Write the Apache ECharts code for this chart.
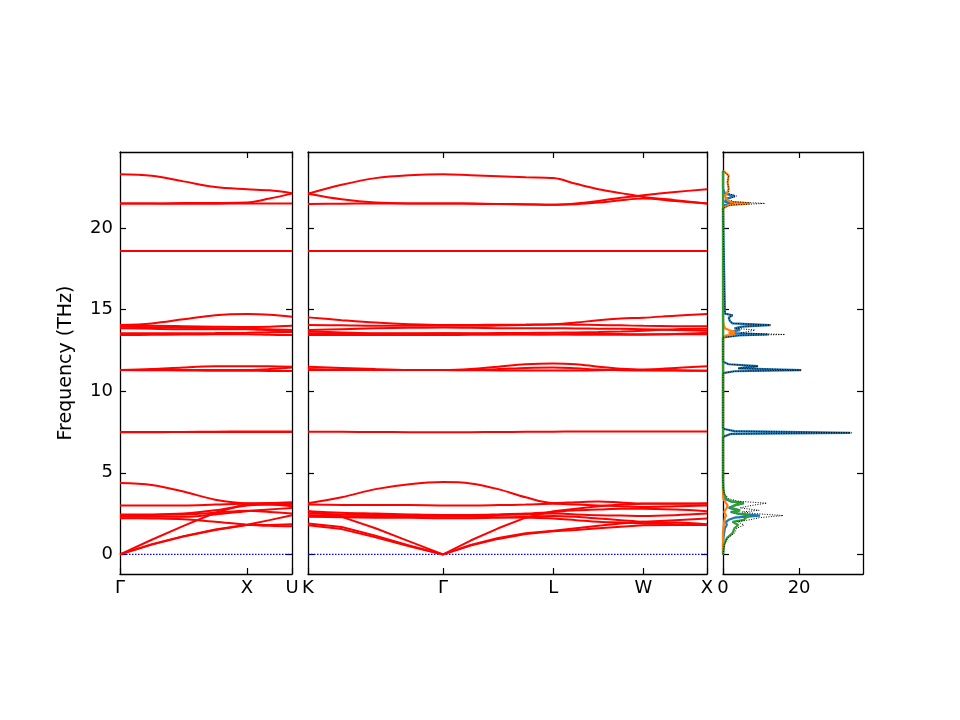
<!DOCTYPE html>
<html>
<head>
<meta charset="utf-8">
<script src="https://cdn.jsdelivr.net/npm/echarts@6/dist/echarts.min.js"></script>
<style>html,body{margin:0;background:#fff}#main{width:960px;height:720px}</style>
</head>
<body>
<div id="main"></div>
<script>
// k-path positions (2pi/a units) and labels
var kpath1 = [0, 0.25, 0.5, 0.75, 1.0, 1.177, 1.354];
var ticks1 = [0, 1.0, 1.354];
var names1 = ['Γ', 'X', 'U'];
var kpath2 = [0, 0.265, 0.53, 0.795, 1.061, 1.277, 1.494, 1.710, 1.927, 2.104, 2.281, 2.457, 2.634, 2.884, 3.134];
var ticks2 = [0, 1.061, 1.927, 2.634, 3.134];
var names2 = ['K', 'Γ', 'L', 'W', 'X'];
var freqTicks = [0, 5, 10, 15, 20];
var dosTicks = [0, 20];

// Γ-X-U bands (THz)
var acoustic1 = [
  [0, 0.6, 1.1, 1.5, 1.8, 1.8, 1.85],
  [0, 0.62, 1.12, 1.52, 1.82, 2.1, 2.4],
  [0, 0.9, 1.75, 2.55, 3.1, 3.1, 3.05]
];
var optical1 = [
  [2.22, 2.2, 2.15, 2.0, 1.82, 1.75, 1.72],
  [2.3, 2.3, 2.3, 2.45, 2.65, 2.75, 2.85],
  [2.42, 2.42, 2.45, 2.55, 2.68, 2.6, 2.5],
  [2.45, 2.45, 2.5, 2.7, 3.0, 3.05, 3.1],
  [3.0, 3.0, 3.0, 3.05, 3.1, 3.05, 2.95],
  [4.37, 4.25, 3.85, 3.35, 3.14, 3.15, 3.2],
  [7.48, 7.48, 7.5, 7.52, 7.53, 7.53, 7.53],
  [7.5, 7.5, 7.5, 7.5, 7.5, 7.5, 7.5],
  [11.29, 11.35, 11.45, 11.52, 11.53, 11.52, 11.5],
  [11.29, 11.28, 11.27, 11.25, 11.25, 11.24, 11.23],
  [11.3, 11.3, 11.3, 11.3, 11.3, 11.35, 11.45],
  [13.44, 13.45, 13.47, 13.48, 13.48, 13.45, 13.44],
  [13.54, 13.54, 13.55, 13.56, 13.58, 13.6, 13.62],
  [13.85, 13.82, 13.8, 13.8, 13.8, 13.72, 13.65],
  [13.95, 13.92, 13.88, 13.85, 13.82, 13.8, 13.75],
  [14.0, 14.0, 13.98, 13.95, 13.93, 13.95, 14.0],
  [14.05, 14.15, 14.4, 14.65, 14.72, 14.68, 14.56],
  [18.58, 18.58, 18.58, 18.58, 18.58, 18.58, 18.58],
  [21.5, 21.49, 21.48, 21.48, 21.5, 21.5, 21.5],
  [21.5, 21.5, 21.52, 21.53, 21.55, 21.8, 22.1],
  [23.29, 23.2, 22.85, 22.5, 22.37, 22.3, 22.13]
];

// K-Γ-L-W-X bands (THz)
var acoustic2 = [
  [1.78, 1.55, 1.05, 0.5, 0, 0.55, 0.95, 1.25, 1.42, 1.5, 1.6, 1.7, 1.78, 1.8, 1.8],
  [1.9, 1.68, 1.15, 0.55, 0, 0.58, 1.0, 1.3, 1.45, 1.6, 1.75, 1.9, 2.0, 2.1, 2.2],
  [2.65, 2.3, 1.6, 0.8, 0, 0.85, 1.6, 2.25, 2.65, 2.8, 2.95, 3.05, 3.1, 3.1, 3.1]
];
var optical2 = [
  [2.4, 2.35, 2.32, 2.3, 2.3, 2.3, 2.28, 2.25, 2.2, 2.1, 2.0, 1.95, 1.9, 1.85, 1.82],
  [2.3, 2.28, 2.25, 2.24, 2.22, 2.22, 2.25, 2.3, 2.35, 2.3, 2.2, 2.1, 2.0, 1.95, 1.85],
  [2.5, 2.45, 2.42, 2.4, 2.4, 2.4, 2.42, 2.45, 2.5, 2.45, 2.4, 2.38, 2.35, 2.4, 2.5],
  [2.65, 2.55, 2.5, 2.45, 2.42, 2.42, 2.45, 2.5, 2.6, 2.7, 2.75, 2.8, 2.8, 2.75, 2.65],
  [3.05, 3.03, 3.02, 3.02, 3.0, 3.0, 3.02, 3.05, 3.1, 3.05, 3.0, 2.95, 2.9, 2.95, 3.0],
  [3.14, 3.5, 4.0, 4.3, 4.43, 4.35, 4.0, 3.5, 3.15, 3.2, 3.24, 3.18, 3.12, 3.12, 3.14],
  [7.52, 7.51, 7.5, 7.49, 7.48, 7.49, 7.5, 7.51, 7.52, 7.53, 7.53, 7.53, 7.53, 7.53, 7.53],
  [11.35, 11.32, 11.3, 11.29, 11.29, 11.28, 11.27, 11.27, 11.27, 11.27, 11.28, 11.3, 11.3, 11.28, 11.25],
  [11.29, 11.29, 11.29, 11.29, 11.29, 11.3, 11.35, 11.42, 11.45, 11.4, 11.32, 11.28, 11.27, 11.26, 11.25],
  [11.49, 11.42, 11.35, 11.3, 11.29, 11.35, 11.5, 11.65, 11.7, 11.65, 11.5, 11.38, 11.33, 11.42, 11.53],
  [13.44, 13.44, 13.44, 13.44, 13.44, 13.45, 13.46, 13.47, 13.48, 13.5, 13.52, 13.5, 13.48, 13.48, 13.48],
  [13.65, 13.6, 13.55, 13.54, 13.54, 13.52, 13.5, 13.48, 13.47, 13.46, 13.45, 13.45, 13.46, 13.5, 13.58],
  [13.54, 13.53, 13.52, 13.52, 13.54, 13.55, 13.56, 13.57, 13.58, 13.6, 13.62, 13.65, 13.7, 13.8, 13.82],
  [13.75, 13.8, 13.85, 13.88, 13.9, 13.88, 13.86, 13.85, 13.85, 13.84, 13.83, 13.82, 13.8, 13.75, 13.7],
  [14.05, 14.03, 14.0, 14.0, 14.0, 14.0, 14.02, 14.05, 14.08, 14.07, 14.05, 14.03, 14.0, 13.98, 13.97],
  [14.52, 14.35, 14.2, 14.1, 14.05, 14.05, 14.07, 14.08, 14.1, 14.2, 14.35, 14.45, 14.5, 14.62, 14.72],
  [18.58, 18.58, 18.58, 18.58, 18.58, 18.58, 18.58, 18.58, 18.58, 18.58, 18.58, 18.58, 18.58, 18.58, 18.58],
  [21.47, 21.48, 21.5, 21.5, 21.5, 21.48, 21.46, 21.44, 21.42, 21.45, 21.55, 21.7, 21.8, 21.65, 21.5],
  [22.09, 21.75, 21.55, 21.5, 21.5, 21.49, 21.47, 21.45, 21.42, 21.5, 21.65, 21.85, 22.0, 22.2, 22.37],
  [22.09, 22.64, 23.05, 23.23, 23.29, 23.23, 23.17, 23.1, 23.05, 22.7, 22.37, 22.13, 21.9, 21.7, 21.5]
];

// projected DOS: frequency grid and states per species + total
var dosFreq = [0, 0.6, 1.0, 1.3, 1.6, 1.8, 2.0, 2.12, 2.25, 2.38, 2.5, 2.6, 2.7, 2.85, 3.0, 3.14, 3.25, 3.4, 3.7, 4.0, 4.5,
  7.2, 7.38, 7.45, 7.55, 7.7, 11.1, 11.22, 11.29, 11.4, 11.53, 11.65, 11.8,
  13.3, 13.42, 13.47, 13.56, 13.64, 13.74, 13.85, 13.95, 14.05, 14.15, 14.3, 14.5, 14.65, 14.75, 14.85,
  21.2, 21.4, 21.5, 21.6, 21.8, 21.95, 22.1, 22.4, 22.8, 23.2, 23.35, 23.5];
var dosBlue = [0, 0, 0.1, 0.3, 0.5, 1.0, 0.8, 1.5, 3.0, 9.7, 4.0, 2.0, 4.4, 1.5, 3.0, 5.5, 2.0, 0.5, 0.1, 0, 0,
  0, 2, 33.5, 3, 0, 0, 3, 20.5, 4, 9.2, 1.5, 0,
  0, 4, 11.9, 3, 2, 4.5, 3, 5, 12.4, 2.5, 1.8, 1.5, 2.5, 0.5, 0,
  0, 0.5, 3.0, 0.5, 1.0, 3.1, 0.5, 0, 0, 0, 0, 0];
var dosOrange = [0, 0, 0, 0, 0.1, 0.2, 0.3, 0.4, 0.5, 0.8, 0.5, 0.3, 0.5, 1.0, 1.2, 0.8, 0.3, 0.1, 0, 0, 0,
  0, 0, 0, 0, 0, 0, 0, 0, 0, 0, 0, 0,
  0, 1, 3.1, 1.5, 3.1, 1.5, 0.5, 0.3, 0.2, 0, 0, 0, 0, 0, 0,
  0, 1.5, 7.1, 2.0, 0.8, 0.5, 1.0, 1.5, 1.2, 1.5, 0.8, 0];
var dosGreen = [0, 0.3, 1.0, 2.5, 3.0, 4.0, 2.5, 5.5, 6.0, 7.0, 4.0, 2.5, 4.5, 2.0, 3.0, 5.3, 2.0, 1.0, 0.3, 0.1, 0,
  0, 0, 0, 0, 0, 0, 0, 0, 0, 0, 0, 0,
  0, 0, 0, 0, 0, 0, 0, 0, 0, 0, 0, 0, 0, 0, 0,
  0, 0, 0, 0, 0, 0, 0, 0, 0, 0, 0, 0];
var dosTotal = [0, 0.4, 1.2, 3.0, 3.6, 5.5, 3.8, 7.0, 9.5, 15.8, 8.5, 5.0, 9.5, 4.5, 7.5, 11.5, 4.3, 1.6, 0.4, 0.1, 0,
  0, 2, 33.8, 3, 0, 0, 3, 20.7, 4, 9.2, 1.5, 0,
  0, 5, 16.3, 4.5, 5.0, 8.4, 3.5, 5.3, 12.6, 2.5, 1.8, 1.5, 2.5, 0.5, 0,
  0, 2.0, 11.0, 2.5, 1.8, 3.6, 1.5, 1.5, 1.2, 1.5, 0.8, 0];

var FONT = 'DejaVu Sans';
var FS = 18;
var YMIN = -1.2, YMAX = 24.65;

function tickAx(extra) {
  var ax = {
    min: 0, max: 1, type: 'value',
    axisLine: {show: true, onZero: false, lineStyle: {color: '#000', width: 1.3}},
    axisTick: {show: true, inside: true, length: 6, lineStyle: {color: '#000', width: 1.2}},
    axisLabel: {show: false},
    splitLine: {show: false}
  };
  return Object.assign(ax, extra);
}

function xAxesFor(g, kmax, ticks, names) {
  var fmt = function (v) {
    for (var i = 0; i < ticks.length; i++) if (Math.abs(ticks[i] - v) < 1e-6) return names[i];
    return '';
  };
  var bottom = tickAx({gridIndex: g, position: 'bottom', min: 0, max: kmax});
  bottom.axisTick.customValues = ticks;
  bottom.axisLabel = {show: true, customValues: ticks, formatter: fmt, color: '#000', fontSize: FS, fontFamily: FONT, margin: 5};
  var top = tickAx({gridIndex: g, position: 'top', min: 0, max: kmax});
  top.axisTick.customValues = ticks;
  return [bottom, top];
}

function yAxesFor(g, labels) {
  var left = tickAx({gridIndex: g, position: 'left', min: YMIN, max: YMAX});
  left.axisTick.customValues = freqTicks;
  if (labels) {
    left.axisLabel = {show: true, customValues: freqTicks, color: '#000', fontSize: FS, fontFamily: FONT, margin: 7};
    left.name = 'Frequency (THz)';
    left.nameLocation = 'middle';
    left.nameGap = 44;
    left.nameTextStyle = {color: '#000', fontSize: 19, fontFamily: FONT};
  }
  var right = tickAx({gridIndex: g, position: 'right', min: YMIN, max: YMAX});
  right.axisTick.customValues = freqTicks;
  return [left, right];
}

var xAxis = [].concat(xAxesFor(0, kpath1[kpath1.length - 1], ticks1, names1),
                      xAxesFor(1, kpath2[kpath2.length - 1], ticks2, names2));
var dosBottom = tickAx({gridIndex: 2, position: 'bottom', min: 0, max: 36.8});
dosBottom.axisTick.customValues = dosTicks;
dosBottom.axisLabel = {show: true, customValues: dosTicks, color: '#000', fontSize: FS, fontFamily: FONT, margin: 5};
var dosTop = tickAx({gridIndex: 2, position: 'top', min: 0, max: 36.8});
dosTop.axisTick.customValues = dosTicks;
xAxis.push(dosBottom, dosTop);

var yAxis = [].concat(yAxesFor(0, true), yAxesFor(1, false), yAxesFor(2, false));

var series = [];
function bandSeries(kp, bands, axisIdx, smooth) {
  bands.forEach(function (b) {
    series.push({
      type: 'line', xAxisIndex: axisIdx, yAxisIndex: axisIdx, symbol: 'none', silent: true,
      smooth: smooth, data: b.map(function (f, i) { return [kp[i], f]; }),
      lineStyle: {color: '#ff0000', width: 2}, z: 3
    });
  });
}
function zeroLine(kp, axisIdx) {
  series.push({
    type: 'line', xAxisIndex: axisIdx, yAxisIndex: axisIdx, symbol: 'none', silent: true,
    data: [[kp[0], 0], [kp[kp.length - 1], 0]],
    lineStyle: {color: '#0000ff', width: 1.2, type: [1.5, 1.5]}, z: 2
  });
}
zeroLine(kpath1, 0);
zeroLine(kpath2, 2);
bandSeries(kpath1, acoustic1, 0, false);
bandSeries(kpath1, optical1, 0, 0.35);
bandSeries(kpath2, acoustic2, 2, false);
bandSeries(kpath2, optical2, 2, 0.35);

function dosSeries(vals, color, width, type, z) {
  series.push({
    type: 'line', xAxisIndex: 4, yAxisIndex: 4, symbol: 'none', silent: true,
    data: vals.map(function (d, i) { return [d, dosFreq[i]]; }),
    lineStyle: {color: color, width: width, type: type}, z: z
  });
}
dosSeries(dosBlue, '#1f77b4', 2.2, 'solid', 3);
dosSeries(dosOrange, '#ff7f0e', 2.2, 'solid', 4);
dosSeries(dosGreen, '#2ca02c', 2.2, 'solid', 5);
dosSeries(dosTotal, '#000', 1, [1, 1.5], 6);

var chart = echarts.init(document.getElementById('main'), null, {renderer: 'canvas'});
chart.setOption({
  animation: false,
  backgroundColor: '#fff',
  grid: [
    {left: 120, top: 152, width: 172, height: 422, outerBoundsMode: 'none'},
    {left: 308, top: 152, width: 399, height: 422, outerBoundsMode: 'none'},
    {left: 723, top: 152, width: 140, height: 422, outerBoundsMode: 'none'}
  ],
  xAxis: xAxis,
  yAxis: yAxis,
  series: series
});
</script>
</body>
</html>
